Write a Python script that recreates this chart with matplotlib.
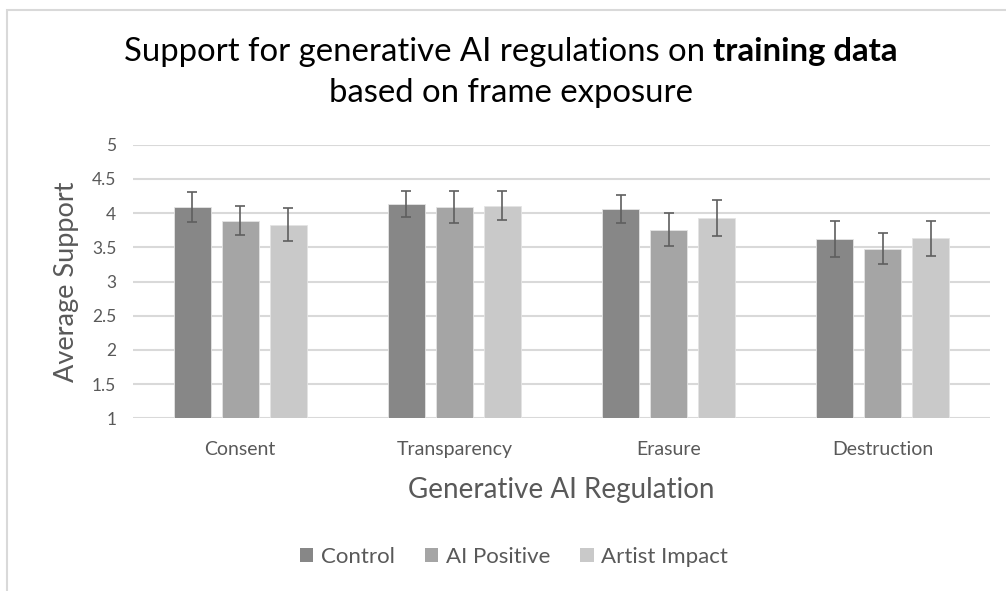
import numpy as np
import matplotlib
matplotlib.use("Agg")
import matplotlib.pyplot as plt
from matplotlib.patches import Rectangle, Patch

plt.rcParams["font.family"] = ["Lato", "DejaVu Sans"]

CATEGORIES = ["Consent", "Transparency", "Erasure", "Destruction"]
GROUPS = ["Control", "AI Positive", "Artist Impact"]

control = [4.09, 4.14, 4.06, 3.62]
ai_positive = [3.89, 4.09, 3.76, 3.48]
artist_impact = [3.83, 4.11, 3.93, 3.63]

control_err = [0.22, 0.19, 0.21, 0.26]
ai_positive_err = [0.21, 0.23, 0.24, 0.23]
artist_impact_err = [0.24, 0.21, 0.26, 0.26]

COLORS = ["#878787", "#a5a5a5", "#c9c9c9"]
GRID = "#d9d9d9"
TXT = "#595959"

W, H = 1006, 591
fig = plt.figure(figsize=(W / 100, H / 100), dpi=100)

# chart area border (Excel style)
fig.patches.append(Rectangle((7 / W, -0.1), 1.2, 1 - 9.5 / H + 0.1,
                             transform=fig.transFigure, fill=False,
                             edgecolor=GRID, linewidth=1.5))

ax = fig.add_axes([133 / W, 1 - 418.3 / H, (990 - 133) / W, (418.3 - 144.7) / H])

x = np.arange(len(CATEGORIES))
width = 0.173
offset = 0.224
series = [control, ai_positive, artist_impact]
errs = [control_err, ai_positive_err, artist_impact_err]

for k, (vals, err, col, name) in enumerate(zip(series, errs, COLORS, GROUPS)):
    pos = x + (k - 1) * offset
    ax.bar(pos, np.array(vals) - 1, width, bottom=1, color=col,
           edgecolor="#e4e4e4", linewidth=0.6, zorder=2, label=name)
    ax.errorbar(pos, vals, yerr=err, fmt="none", ecolor="#5f5f5f",
                elinewidth=1.2, capsize=3.8, capthick=1.2, zorder=3)

ax.set_xlim(-0.5, 3.5)
ax.set_ylim(1, 5)
ax.set_yticks(np.arange(1, 5.01, 0.5))
ax.set_yticklabels(["1", "1.5", "2", "2.5", "3", "3.5", "4", "4.5", "5"])
ax.set_xticks(x)
ax.set_xticklabels(CATEGORIES)
ax.grid(axis="y", color=GRID, linewidth=1.5, zorder=0)
ax.set_axisbelow(True)
for s in ax.spines.values():
    s.set_visible(False)
ax.tick_params(axis="both", length=0, colors=TXT)
ax.tick_params(axis="x", pad=16, labelsize=14)
ax.tick_params(axis="y", pad=12, labelsize=12.5)

ax.set_ylabel("Average Support", fontsize=19.5, color=TXT, labelpad=9)
ax.set_xlabel("Generative AI Regulation", fontsize=20, color=TXT, labelpad=14)

# title, first line has a bold part
fig.canvas.draw()
r = fig.canvas.get_renderer()
y1 = 1 - 52 / H
t1 = fig.text(0, y1, "Support for generative AI regulations on ", fontsize=23.7,
              color="black", va="center")
t2 = fig.text(0, y1, "training data", fontsize=23.7, fontweight="bold",
              color="black", va="center")
w1 = t1.get_window_extent(r).width
w2 = t2.get_window_extent(r).width
x0 = 511 - (w1 + w2) / 2
t1.set_x(x0 / W)
t2.set_x((x0 + w1) / W)
fig.text(511 / W, 1 - 93 / H, "based on frame exposure", fontsize=23.7,
         color="black", ha="center", va="center")

handles = [Patch(facecolor=c, edgecolor="none") for c in COLORS]
fig.legend(handles, GROUPS, loc="center", bbox_to_anchor=(514 / W, 1 - 557 / H),
           ncol=3, frameon=False, fontsize=16, labelcolor=TXT,
           handlelength=0.6, handleheight=0.6, handletextpad=0.35,
           columnspacing=1.35)

fig.savefig("out.png", dpi=100)
